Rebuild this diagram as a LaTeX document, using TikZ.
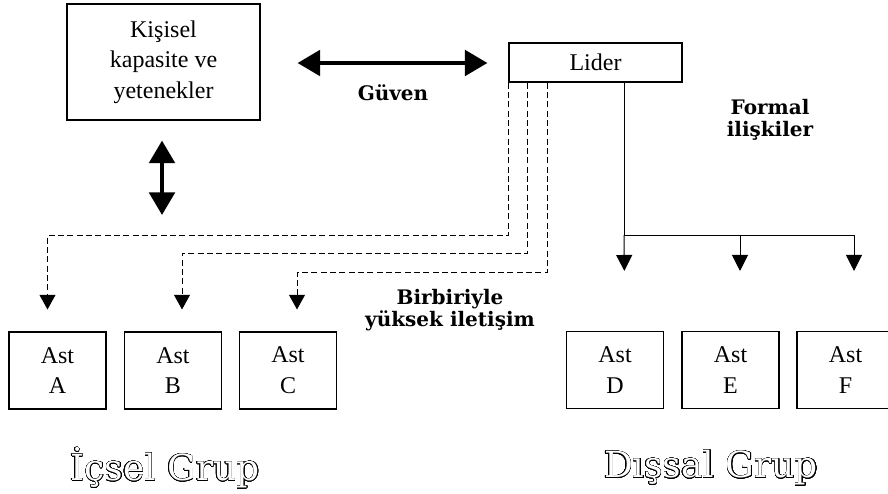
\documentclass[tikz,border=0pt]{standalone}
\usepackage{fontspec}
\setmainfont{Liberation Serif}
\newfontfamily\headfont{DejaVu Serif}
\usepackage{contour}
\usetikzlibrary{arrows.meta,calc}

\tikzset{
  box/.style={draw=black, line width=0.8pt, align=center, font=\fontsize{18}{23}\selectfont},
  astbox/.style={box, minimum width=72.75pt, minimum height=57.75pt},
  bigarrow/.style={line width=3.4pt, {Triangle[length=17pt,width=19pt]}-{Triangle[length=17pt,width=19pt]}},
  dashlink/.style={line width=0.75pt, dash pattern=on 4.5pt off 2.5pt, -{Triangle[length=11pt,width=12pt]}},
  formlink/.style={line width=0.75pt, -{Triangle[length=12pt,width=12pt]}},
  boldlabel/.style={align=center, font=\headfont\bfseries\fontsize{15}{17}\selectfont},
  grouplabel/.style={font=\headfont\fontsize{27}{30}\selectfont}
}
\contourlength{0.35pt}
\contournumber{32}

\begin{document}
\begin{tikzpicture}[x=0.75pt, y=-0.75pt]
\useasboundingbox (0,0) rectangle (888,493);
\clip (0,0) rectangle (888,493);

% upper boxes
\node[box, minimum width=144.75pt, minimum height=87pt] (kisisel) at (163.5,62)
  {Kişisel\\kapasite ve\\yetenekler};
\node[box, minimum width=129.75pt, minimum height=29.25pt] (lider) at (595.5,62.5) {Lider};

% member boxes
\node[astbox] (a) at (57.5,370.5) {Ast\\A};
\node[astbox] (b) at (173,370.5) {Ast\\B};
\node[astbox] (c) at (288,370.5) {Ast\\C};
\node[astbox] (d) at (615,370) {Ast\\D};
\node[astbox] (e) at (730.5,370) {Ast\\E};
\node[astbox] (f) at (845.5,370) {Ast\\F};

% trust arrow between the capacity box and the leader
\draw[bigarrow, shorten <=27.75pt, shorten >=15.75pt] (kisisel.east |- 0,63) -- (lider.west |- 0,63);
\node[boldlabel] (guven) at (393,93) {Güven};

% vertical double arrow under the capacity box
\coordinate (vend) at (162,215);
\draw[bigarrow, shorten <=15pt] (kisisel.south -| vend) -- (vend);

% informal (dashed) links from the leader to the inner group
\draw[dashlink, shorten >=16.5pt] (lider.south west) |- ($(a.north)+(-10,-96)$) -- ($(a.north)+(-10,0)$);
\draw[dashlink, shorten >=16.5pt] ($(lider.south west)+(19,0)$) |- ($(b.north)+(9,-78)$) -- ($(b.north)+(9,0)$);
\draw[dashlink, shorten >=16.5pt] ($(lider.south west)+(39,0)$) |- ($(c.north)+(9,-59)$) -- ($(c.north)+(9,0)$);

% formal links to the outer group
\coordinate (hub) at (624,235);
\draw[line width=0.75pt] ($(lider.south)+(28.5,0)$) -- (hub);
\draw[formlink, shorten >=45pt] (hub) -- ($(d.north)+(10,0)$);
\draw[formlink, shorten >=45pt] (hub) -| ($(e.north)+(9.5,0)$);
\draw[formlink, shorten >=45pt] (hub) -| ($(f.north)+(8.5,0)$);

% labels
\node[boldlabel] (formal) at (770,120) {Formal\\ilişkiler};
\node[boldlabel] (birbir) at (450,310) {Birbiriyle\\yüksek iletişim};
\node[grouplabel] (icsel) at (165,468) {\contour{black}{\color{white}İçsel Grup}};
\node[grouplabel] (dissal) at (711,468) {\contour{black}{\color{white}Dışsal Grup}};
\end{tikzpicture}
\end{document}
